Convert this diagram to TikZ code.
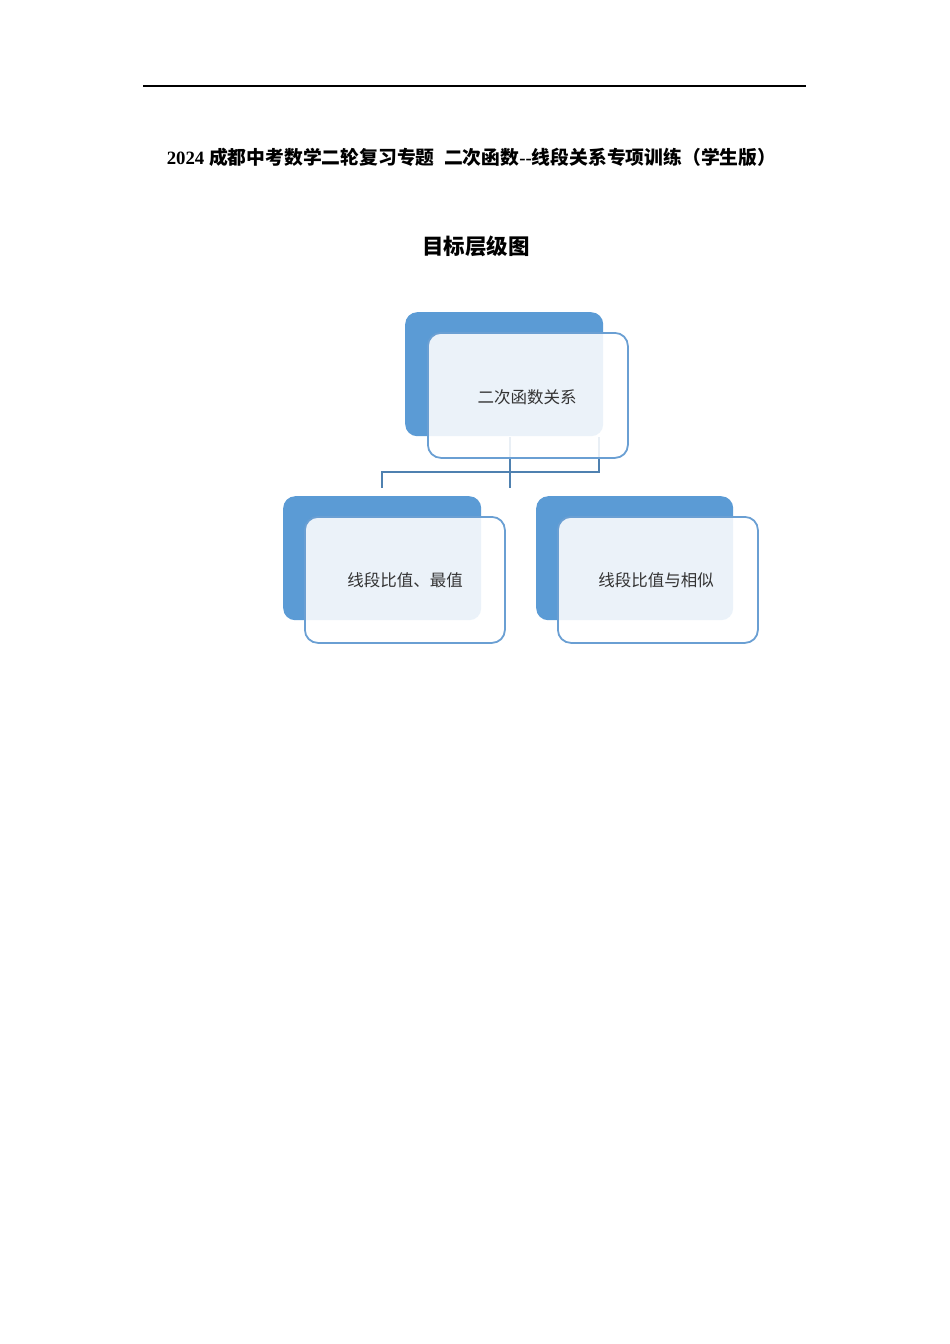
\documentclass[tikz,border=0pt]{standalone}
\usepackage{fontspec}
\setmainfont{Liberation Serif}
\newfontfamily\cjk{Noto Sans CJK SC}
\usetikzlibrary{positioning}
\definecolor{backblue}{HTML}{5B9BD5}
\definecolor{frontline}{HTML}{6A9FD3}
\definecolor{linkblue}{HTML}{4F81B0}
\tikzset{
  backbox/.style={fill=backblue, draw=none, rounded corners=12pt},
  frontbox/.style={fill=white, fill opacity=0.88, draw=frontline, draw opacity=1, line width=1.8pt, rounded corners=13pt},
  boxtext/.style={font=\cjk\fontsize{16.5}{18}\selectfont, text=black!80, text opacity=1},
  link/.style={draw=linkblue, line width=1.8pt}
}
\begin{document}
\begin{tikzpicture}[x=1pt,y=-1pt]
\useasboundingbox (0,0) rectangle (950,1344);
\fill[white] (0,0) rectangle (950,1344);
% top rule
\coordinate (rl) at (143,86);
\coordinate (rr) at (806,86);
\draw[line width=1.5pt] (rl) -- (rr);
% title
\node (title) at (471.5,157) {\bfseries\fontsize{18.8}{20}\selectfont 2024 {\cjk 成都中考数学二轮复习专题}\hspace{0.5em}{\cjk 二次函数}-{}-{\cjk 线段关系专项训练（学生版）}};
\node (heading) at (476,246) {\cjk\bfseries\fontsize{21.5}{24}\selectfont 目标层级图};
% connectors (drawn first, seen through the front boxes)
\coordinate (jc) at (510,472);
\coordinate (jl) at (382,472);
\coordinate (jr) at (599,472);
\coordinate (tc) at (510,437);
\coordinate (tr) at (599,437);
\coordinate (bl) at (382,488);
\coordinate (bc) at (510,488);
% boxes
\node[backbox, minimum width=198pt, minimum height=124pt, anchor=north west] (tback) at (405,312) {};
\draw[link] (tc) -- (bc);
\draw[link] (tr) -- (jr) -- (jl) -- (bl);
\node[frontbox, minimum width=200pt, minimum height=125pt, anchor=north west] (tfront) at (427,332) {};
\node[boxtext] (ttext) at (527,397) {二次函数关系};

\node[backbox, minimum width=198pt, minimum height=124pt, anchor=north west] (lback) at (283,496) {};
\node[frontbox, minimum width=200pt, minimum height=126pt, anchor=north west] (lfront) at (304,516) {};
\node[boxtext] (ltext) at (405,580) {线段比值、最值};

\node[backbox, minimum width=197pt, minimum height=124pt, anchor=north west] (rback) at (536,496) {};
\node[frontbox, minimum width=200pt, minimum height=126pt, anchor=north west] (rfront) at (557,516) {};
\node[boxtext] (rtext) at (656,580) {线段比值与相似};
\end{tikzpicture}
\end{document}
